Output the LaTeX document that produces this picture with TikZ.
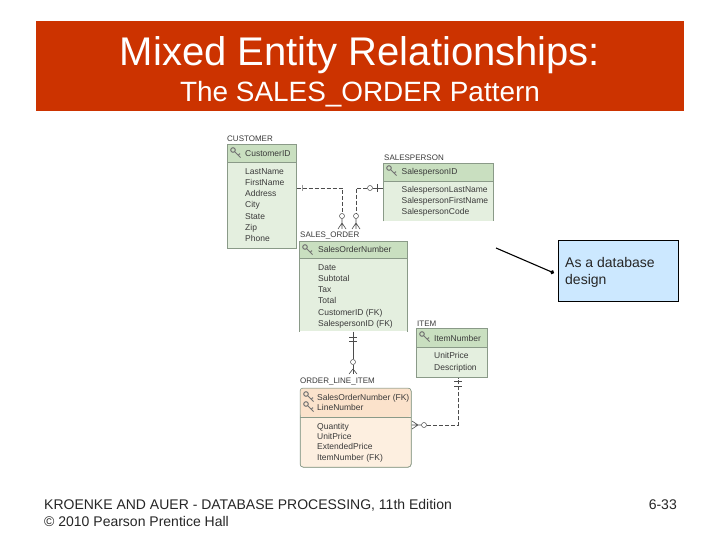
\documentclass[tikz,border=0pt]{standalone}
\usepackage{fontspec}
\setmainfont{Liberation Sans}
\usetikzlibrary{arrows.meta,positioning,calc}
\definecolor{titlered}{HTML}{CC3300}
\definecolor{calloutblue}{HTML}{CCE8FF}
\definecolor{entbody}{HTML}{E4EFDF}
\definecolor{enthead}{HTML}{C9DFC0}
\definecolor{depbody}{HTML}{FDEFE0}
\definecolor{dephead}{HTML}{FBE2CB}
\definecolor{entline}{HTML}{8A9A88}
\definecolor{enttext}{HTML}{3A3A3A}
\begin{document}
\begin{tikzpicture}[
  x=1pt, y=-1pt,
  entity/.style={draw=entline, fill=entbody, line width=0.5pt, anchor=north west, inner sep=0pt},
  openentity/.style={entity, draw=none},
  enthd/.style={entity, fill=enthead},
  entname/.style={anchor=south west, inner sep=0pt, font=\fontsize{8}{9}\selectfont, text=enttext},
  attrs/.style={anchor=north west, inner sep=0pt, align=left, text=enttext,
                font=\fontsize{8.5}{11.3}\selectfont},
  link/.style={draw=black!70, line width=0.6pt},
  fk/.style={link, dash pattern=on 4pt off 2pt},
  optmark/.style={circle, draw=black!70, fill=white, line width=0.5pt, inner sep=0pt, minimum size=5pt},
  keyicon/.pic={
    \draw[black!55, line width=1pt] (-3,-3) circle (2.3pt);
    \draw[black!55, line width=1pt] (-1.4,-1.4) -- (4.5,4.5) (2.2,2.2) -- (4,0.6);
  }
]
  \useasboundingbox (0,0) rectangle (720,540);
  \node[fill=white, minimum width=720pt, minimum height=540pt, inner sep=0pt, anchor=north west] (page) at (0,0) {};

  % title band
  \node[fill=titlered, minimum width=648pt, minimum height=90pt, inner sep=0pt, anchor=north west] (band) at (36,21) {};
  \node[text=white, font=\fontsize{40}{44}\selectfont] (title) at (360,55) {Mixed Entity Relationships:};
  \node[text=white, font=\fontsize{27.9}{32}\selectfont] (subtitle) at (360,94) {The SALES\_ORDER Pattern};

  % CUSTOMER
  \node[entity, minimum width=69pt, minimum height=104pt] (customer) at (227,144) {};
  \node[enthd, minimum width=69pt, minimum height=18pt] (customerhead) at (227,144) {};
  \node[entname] (customername) at (227,142) {CUSTOMER};
  \pic at (236,153) {keyicon};
  \node[attrs] (customerkey) at (245,150) {CustomerID};
  \node[attrs] (customerattrs) at (245,168) {LastName\\FirstName\\Address\\City\\State\\Zip\\Phone};

  % SALESPERSON
  \node[openentity, minimum width=110pt, minimum height=58pt] (salesperson) at (383,163) {};
  \draw[entline, line width=0.5pt] (salesperson.south west) -- (salesperson.north west) -- (salesperson.north east) -- (salesperson.south east);
  \node[enthd, minimum width=110pt, minimum height=18pt] (salespersonhead) at (383,163) {};
  \node[entname] (salespersonname) at (384,161) {SALESPERSON};
  \pic at (392,171) {keyicon};
  \node[attrs] (salespersonkey) at (401.5,168) {SalespersonID};
  \node[attrs] (salespersonattrs) at (401.5,186) {SalespersonLastName\\SalespersonFirstName\\SalespersonCode};

  % SALES_ORDER
  \node[openentity, minimum width=108pt, minimum height=90pt] (order) at (299,241) {};
  \draw[entline, line width=0.5pt] (order.south west) -- (order.north west) -- (order.north east) -- (order.south east);
  \node[enthd, minimum width=108pt, minimum height=17pt] (orderhead) at (299,241) {};
  \node[entname] (ordername) at (300,239) {SALES\_ORDER};
  \pic at (308,250) {keyicon};
  \node[attrs] (orderkey) at (318,246) {SalesOrderNumber};
  \node[attrs] (orderattrs) at (318,264) {Date\\Subtotal\\Tax\\Total\\CustomerID (FK)\\SalespersonID (FK)};

  % ITEM
  \node[entity, minimum width=71pt, minimum height=49pt] (item) at (416,328) {};
  \node[enthd, minimum width=71pt, minimum height=19pt] (itemhead) at (416,328) {};
  \node[entname] (itemname) at (417,327) {ITEM};
  \pic at (425,337) {keyicon};
  \node[attrs] (itemkey) at (434,335) {ItemNumber};
  \node[attrs] (itemattrs) at (434,352.5) {UnitPrice\\Description};

  % ORDER_LINE_ITEM
  \node[entity, fill=depbody, rounded corners=3pt, minimum width=111pt, minimum height=79pt] (lineitem) at (300,388) {};
  \fill[dephead, rounded corners=3pt] (300.3,388.3) -- (410.7,388.3) -- (410.7,417) -- (300.3,417) -- cycle;
  \draw[entline, line width=0.5pt, rounded corners=3pt] (300,388) rectangle (411,467);
  \draw[entline, line width=0.5pt] (300,417) -- (411,417);
  \node[entname] (linename) at (300,385) {ORDER\_LINE\_ITEM};
  \pic at (309,397) {keyicon};
  \pic at (309,407) {keyicon};
  \node[attrs, font=\fontsize{8.5}{10.2}\selectfont] (linekey) at (317,394) {SalesOrderNumber (FK)\\LineNumber};
  \node[attrs, font=\fontsize{8.5}{10.3}\selectfont] (lineattrs) at (317,423) {Quantity\\UnitPrice\\ExtendedPrice\\ItemNumber (FK)};

  % connectors
  \coordinate (cfoot) at (342,229);
  \coordinate (sfoot) at (356,229);
  \node[optmark] (copt) at (342,216) {};
  \node[optmark] (sopt) at (356,216) {};
  \node[optmark] (spopt) at (370,188) {};
  \draw[fk] (customer.east |- 0,188) -- (342,188) -- (copt);
  \draw[fk] (spopt) -- (356,188) -- (sopt);
  \draw[link] (spopt) -- (salesperson.west |- spopt);
  \draw[link] (377,184) -- (377,192);
  \draw[link, black!40] (302,185) -- (302,191);
  \draw[link] (copt) -- (cfoot) (342,223) -- (338,229) (342,223) -- (346,229);
  \draw[link] (sopt) -- (sfoot) (356,223) -- (352,229) (356,223) -- (360,229);

  \node[optmark] (lopt) at (353,362) {};
  \draw[link] (order.south -| lopt) -- (lopt) (lopt) -- (353,374);
  \draw[link] (349,337) -- (357,337) (349,341) -- (357,341);
  \draw[link] (353,369) -- (349,374) (353,369) -- (357,374);

  \node[optmark] (iopt) at (424,425) {};
  \draw[fk] (iopt) -- (458,425) -- (item.south -| 458,0);
  \draw[link] (454,381) -- (462,381) (454,386) -- (462,386);
  \draw[link] (lineitem.east |- iopt) -- (iopt) (418,425) -- (412,421) (418,425) -- (412,429);

  % callout
  \node[draw=black, fill=calloutblue, line width=0.7pt, minimum width=120pt, minimum height=61pt, inner sep=0pt, anchor=north west] (callout) at (558,240) {};
  \node[anchor=north west, inner sep=0pt, align=left, font=\fontsize{14}{17}\selectfont, text=black!85] (callouttext) at (565,257) {As a database\\design};
  \coordinate (pointer) at (496,248);
  \coordinate (pointertip) at (554,273);
  \draw[black, line width=1.1pt, -{Circle[length=4pt]}] (pointer) -- (pointertip);

  % footer
  \node[anchor=north west, inner sep=0pt, align=left, font=\fontsize{14}{17}\selectfont, text=black!85] (footer) at (44,499) {KROENKE AND AUER - DATABASE PROCESSING, 11th Edition\\© 2010 Pearson Prentice Hall};
  \node[anchor=north east, inner sep=0pt, font=\fontsize{14}{17}\selectfont, text=black!85] (pagenum) at (677,497) {\strut 6-33};
\end{tikzpicture}
\end{document}
